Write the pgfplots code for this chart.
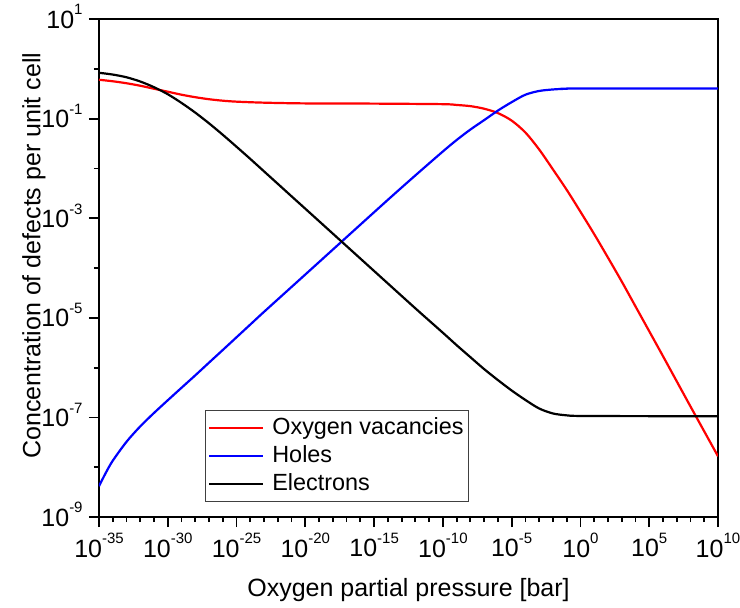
\documentclass[border=0pt]{standalone}
\usepackage{fontspec}
\setmainfont{Liberation Sans}
\usepackage{pgfplots}
\pgfplotsset{compat=1.18}

% power-of-ten tick label set in the text font
\newcommand{\pt}[1]{10\raisebox{6.6pt}{\fontsize{7.5}{8}\selectfont #1}}

\begin{document}
\begin{tikzpicture}
\useasboundingbox (-49.5pt,-45pt) rectangle (320.5pt,258.5pt);
\begin{axis}[
  at={(0pt,0pt)}, anchor=south west,
  scale only axis, width=309.5pt, height=249pt,
  xmode=log, ymode=log,
  xmin=1e-35, xmax=1e10, ymin=1e-9, ymax=1e1,
  xtick={1e-35,1e-30,1e-25,1e-20,1e-15,1e-10,1e-5,1,1e5,1e10},
  xticklabels={\pt{-35},\pt{-30},\pt{-25},\pt{-20},\pt{-15},\pt{-10},\pt{-5},\pt{0},\pt{5},\pt{10}},
  minor xtick={1e-34,1e-33,1e-32,1e-31,1e-29,1e-28,1e-27,1e-26,1e-24,1e-23,1e-22,1e-21,
               1e-19,1e-18,1e-17,1e-16,1e-14,1e-13,1e-12,1e-11,1e-9,1e-8,1e-7,1e-6,
               1e-4,1e-3,1e-2,1e-1,1e1,1e2,1e3,1e4,1e6,1e7,1e8,1e9},
  ytick={1e-9,1e-7,1e-5,1e-3,1e-1,1e1},
  yticklabels={\pt{-9},\pt{-7},\pt{-5},\pt{-3},\pt{-1},\pt{1}},
  minor ytick={1e-8,1e-6,1e-4,1e-2,1},
  tick pos=left, tick align=outside,
  major tick length=5pt, minor tick length=2.5pt,
  tick style={black, line width=0.9pt},
  axis line style={line width=0.9pt},
  ticklabel style={font=\fontsize{12.5}{15}\selectfont},
  xticklabel style={anchor=north, inner sep=0pt, yshift=-3pt},
  yticklabel style={anchor=base east, inner sep=0pt, xshift=-3pt, yshift=-4.5pt},
  xlabel={Oxygen partial pressure [bar]},
  ylabel={Concentration of defects per unit cell},
  xlabel style={at={(axis description cs:0.5,-0.1606)}, anchor=base, font=\fontsize{12.5}{15}\selectfont},
  ylabel style={at={(axis description cs:-0.0945,0.525)}, anchor=base, font=\fontsize{12.5}{15}\selectfont},
  legend style={at={(0.171,0.030)}, anchor=south west,
    draw=black!75, line width=0.5pt, fill=white,
    font=\fontsize{11.7}{14}\selectfont,
    inner xsep=1.5pt, inner ysep=2.75pt,
    row sep=2.25pt, column sep=3pt,
    nodes={inner xsep=1pt, inner ysep=0pt, text height=9.3pt, text depth=2.6pt}},
  legend cell align=left,
  legend image code/.code={\draw[#1, line width=1pt] (0pt,0pt) -- (27pt,0pt);},
]

% oxygen vacancies
\addplot[red, line width=1.1pt, smooth] coordinates {
  (1e-35,0.603)(1e-34,0.562)(1e-33,0.513)(1e-32,0.457)(1e-31,0.398)(1e-30,0.347)
  (1e-29,0.302)(1e-28,0.269)(1e-27,0.245)(1e-26,0.229)(1e-25,0.219)(1e-23,0.209)
  (1e-20,0.202)(1e-15,0.200)(1e-10,0.195)(1e-9,0.188)(1e-8,0.178)(1e-7,0.158)
  (1e-6,0.129)(1e-5,0.0912)(1e-4,0.0525)(1e-3,0.0240)(1e-2,0.00955)(1e-1,0.00372)
  (1,0.00135)(1e1,4.79e-4)(1e2,1.62e-4)(1e3,5.37e-5)(1e4,1.70e-5)(1e6,1.70e-6)
  (1e8,1.66e-7)(1e10,1.66e-8)};
\addlegendentry{Oxygen vacancies}

% holes
\addplot[blue, line width=1.1pt, smooth] coordinates {
  (1e-35,4.17e-9)(3.16e-35,7.76e-9)(1e-34,1.35e-8)(1e-33,3.24e-8)(1e-32,6.61e-8)
  (1e-31,1.23e-7)(1e-30,2.21e-7)(1e-29,3.94e-7)(1e-28,7.00e-7)(1e-27,1.26e-6)
  (1e-26,2.26e-6)(1e-25,4.07e-6)(1e-24,7.33e-6)(1e-23,1.32e-5)(1e-20,7.41e-5)
  (1e-17,4.17e-4)(1e-14,2.34e-3)(1e-12,7.24e-3)(1e-10,0.0219)(1e-9,0.0372)
  (1e-8,0.0603)(1e-7,0.0933)(1e-6,0.145)(1e-5,0.214)(1e-4,0.302)(1e-3,0.359)
  (1e-2,0.385)(1e-1,0.398)(1,0.403)(1e10,0.403)};
\addlegendentry{Holes}

% electrons
\addplot[black, line width=1.1pt, smooth] coordinates {
  (1e-35,0.832)(1e-34,0.767)(1e-33,0.676)(1e-32,0.556)(1e-31,0.427)(1e-30,0.309)
  (1e-29,0.2065)(1e-28,0.1318)(1e-27,0.0804)(1e-26,0.0473)(1e-25,0.0272)(1e-24,0.0155)
  (1e-23,0.00871)(1e-22,0.00490)(1e-21,0.00275)(1e-20,0.00155)(1e-18,4.90e-4)
  (1e-15,8.71e-5)(1e-12,1.55e-5)(1e-10,5.01e-6)(1e-9,2.82e-6)(1e-8,1.62e-6)
  (1e-7,9.33e-7)(1e-6,5.62e-7)(1e-5,3.47e-7)(1e-4,2.24e-7)(1e-3,1.51e-7)
  (1e-2,1.20e-7)(1e-1,1.10e-7)(1,1.07e-7)(1e5,1.06e-7)(1e10,1.06e-7)};
\addlegendentry{Electrons}

\end{axis}
\end{tikzpicture}
\end{document}
